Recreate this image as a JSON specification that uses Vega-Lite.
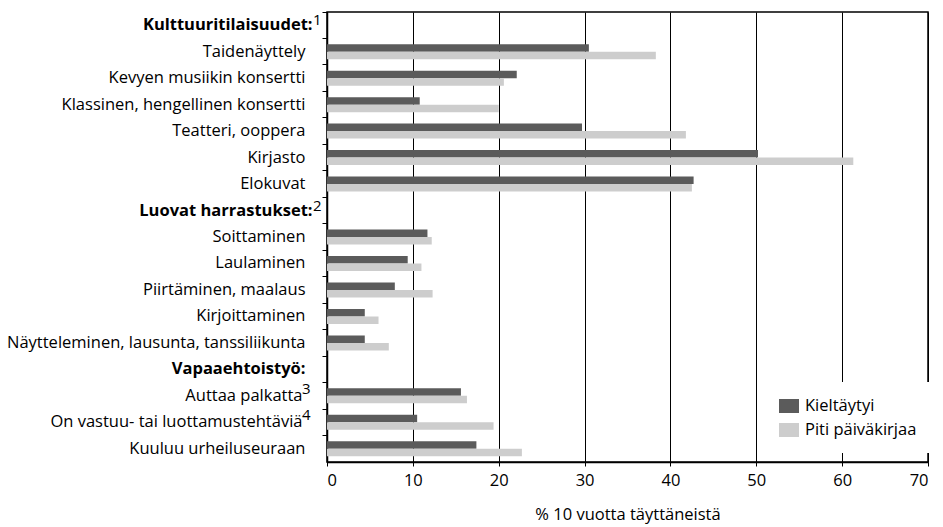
{
  "$schema": "https://vega.github.io/schema/vega-lite/v6.json",
  "width": 601,
  "height": 450,
  "autosize": {"type": "none"},
  "padding": {"left": 327, "top": 12, "right": 15, "bottom": 65},
  "config": {
    "font": "Open Sans",
    "view": {"stroke": "#000", "strokeWidth": 1.5},
    "axis": {"labelFont": "Open Sans", "titleFont": "Open Sans", "labelColor": "#000", "titleColor": "#000"},
    "legend": {"labelFont": "Open Sans"}
  },
  "layer": [
    {
      "data": {
        "values": [
          {"cat": "Taidenäyttely", "group": "Kieltäytyi", "value": 30.5},
          {"cat": "Taidenäyttely", "group": "Piti päiväkirjaa", "value": 38.3},
          {"cat": "Kevyen musiikin konsertti", "group": "Kieltäytyi", "value": 22.1},
          {"cat": "Kevyen musiikin konsertti", "group": "Piti päiväkirjaa", "value": 20.6},
          {"cat": "Klassinen, hengellinen konsertti", "group": "Kieltäytyi", "value": 10.8},
          {"cat": "Klassinen, hengellinen konsertti", "group": "Piti päiväkirjaa", "value": 20.0},
          {"cat": "Teatteri, ooppera", "group": "Kieltäytyi", "value": 29.7},
          {"cat": "Teatteri, ooppera", "group": "Piti päiväkirjaa", "value": 41.8},
          {"cat": "Kirjasto", "group": "Kieltäytyi", "value": 50.2},
          {"cat": "Kirjasto", "group": "Piti päiväkirjaa", "value": 61.3},
          {"cat": "Elokuvat", "group": "Kieltäytyi", "value": 42.7},
          {"cat": "Elokuvat", "group": "Piti päiväkirjaa", "value": 42.5},
          {"cat": "Soittaminen", "group": "Kieltäytyi", "value": 11.7},
          {"cat": "Soittaminen", "group": "Piti päiväkirjaa", "value": 12.2},
          {"cat": "Laulaminen", "group": "Kieltäytyi", "value": 9.4},
          {"cat": "Laulaminen", "group": "Piti päiväkirjaa", "value": 11.0},
          {"cat": "Piirtäminen, maalaus", "group": "Kieltäytyi", "value": 7.9},
          {"cat": "Piirtäminen, maalaus", "group": "Piti päiväkirjaa", "value": 12.3},
          {"cat": "Kirjoittaminen", "group": "Kieltäytyi", "value": 4.4},
          {"cat": "Kirjoittaminen", "group": "Piti päiväkirjaa", "value": 6.0},
          {"cat": "Näytteleminen, lausunta, tanssiliikunta", "group": "Kieltäytyi", "value": 4.4},
          {"cat": "Näytteleminen, lausunta, tanssiliikunta", "group": "Piti päiväkirjaa", "value": 7.2},
          {"cat": "Auttaa palkatta", "group": "Kieltäytyi", "value": 15.6},
          {"cat": "Auttaa palkatta", "group": "Piti päiväkirjaa", "value": 16.3},
          {"cat": "On vastuu- tai luottamustehtäviä", "group": "Kieltäytyi", "value": 10.5},
          {"cat": "On vastuu- tai luottamustehtäviä", "group": "Piti päiväkirjaa", "value": 19.4},
          {"cat": "Kuuluu urheiluseuraan", "group": "Kieltäytyi", "value": 17.4},
          {"cat": "Kuuluu urheiluseuraan", "group": "Piti päiväkirjaa", "value": 22.7}
        ]
      },
      "mark": {"type": "bar", "orient": "horizontal"},
      "encoding": {
        "y": {
          "field": "cat",
          "type": "nominal",
          "scale": {
            "domain": ["Kulttuuritilaisuudet:", "Taidenäyttely", "Kevyen musiikin konsertti", "Klassinen, hengellinen konsertti", "Teatteri, ooppera", "Kirjasto", "Elokuvat", "Luovat harrastukset:", "Soittaminen", "Laulaminen", "Piirtäminen, maalaus", "Kirjoittaminen", "Näytteleminen, lausunta, tanssiliikunta", "Vapaaehtoistyö:", "Auttaa palkatta", "On vastuu- tai luottamustehtäviä", "Kuuluu urheiluseuraan"],
            "paddingInner": 0,
            "paddingOuter": 0
          },
          "axis": {
            "title": null,
            "bandPosition": 0,
            "domainColor": "#000",
            "domainWidth": 1.5,
            "tickColor": "#000",
            "tickSize": 5,
            "tickWidth": 1,
            "labelFontSize": 16.5,
            "labelLimit": 400,
            "labelFontWeight": {"condition": {"test": "indexof(['Kulttuuritilaisuudet:','Luovat harrastukset:','Vapaaehtoistyö:'], datum.value) >= 0", "value": "bold"}, "value": "normal"},
            "labelPadding": {"condition": [{"test": "indexof(['Kulttuuritilaisuudet:','Luovat harrastukset:'], datum.value) >= 0", "value": 10}, {"test": "indexof(['Auttaa palkatta','On vastuu- tai luottamustehtäviä'], datum.value) >= 0", "value": 20}], "value": 17}
          }
        },
        "x": {
          "field": "value",
          "type": "quantitative",
          "scale": {"domain": [0, 70], "nice": false},
          "axis": {
            "title": "% 10 vuotta täyttäneistä",
            "titleFontSize": 16.5,
            "titleFontWeight": "normal",
            "titlePadding": 18,
            "values": [0, 10, 20, 30, 40, 50, 60, 70],
            "grid": true,
            "gridColor": "#000",
            "gridWidth": 1,
            "gridOpacity": 1,
            "domainColor": "#000",
            "domainWidth": 1.5,
            "tickColor": "#000",
            "tickSize": 4,
            "labelFontSize": 16.5,
            "labelPadding": 6
          }
        },
        "yOffset": {
          "field": "group",
          "type": "nominal",
          "sort": ["Kieltäytyi", "Piti päiväkirjaa"],
          "scale": {"paddingInner": 0, "paddingOuter": 0.765}
        },
        "color": {
          "field": "group",
          "type": "nominal",
          "sort": ["Kieltäytyi", "Piti päiväkirjaa"],
          "scale": {"domain": ["Kieltäytyi", "Piti päiväkirjaa"], "range": ["#5b5b5b", "#cdcdcd"]},
          "legend": {
            "title": null,
            "orient": "none",
            "legendX": 438,
            "legendY": 370,
            "padding": 14,
            "fillColor": "#ffffff",
            "symbolType": "M-1,-0.7H1V0.7H-1Z",
            "symbolSize": 400,
            "symbolStrokeWidth": 0,
            "symbolOpacity": 1,
            "labelFontSize": 16.5,
            "labelColor": "#000",
            "labelOffset": 6,
            "rowPadding": 5
          }
        }
      }
    },
    {
      "data": {
        "values": [
          {"cat": "Kulttuuritilaisuudet:", "sup": "1"},
          {"cat": "Luovat harrastukset:", "sup": "2"}
        ]
      },
      "mark": {"type": "text", "align": "left", "baseline": "alphabetic", "dx": -14, "dy": 0, "fontSize": 15, "color": "#000"},
      "encoding": {
        "y": {"field": "cat", "type": "nominal"},
        "x": {"datum": 0, "type": "quantitative"},
        "text": {"field": "sup"}
      }
    },
    {
      "data": {
        "values": [
          {"cat": "Auttaa palkatta", "sup": "3"},
          {"cat": "On vastuu- tai luottamustehtäviä", "sup": "4"}
        ]
      },
      "mark": {"type": "text", "align": "left", "baseline": "alphabetic", "dx": -25, "dy": -2, "fontSize": 15, "color": "#000"},
      "encoding": {
        "y": {"field": "cat", "type": "nominal"},
        "x": {"datum": 0, "type": "quantitative"},
        "text": {"field": "sup"}
      }
    }
  ]
}
